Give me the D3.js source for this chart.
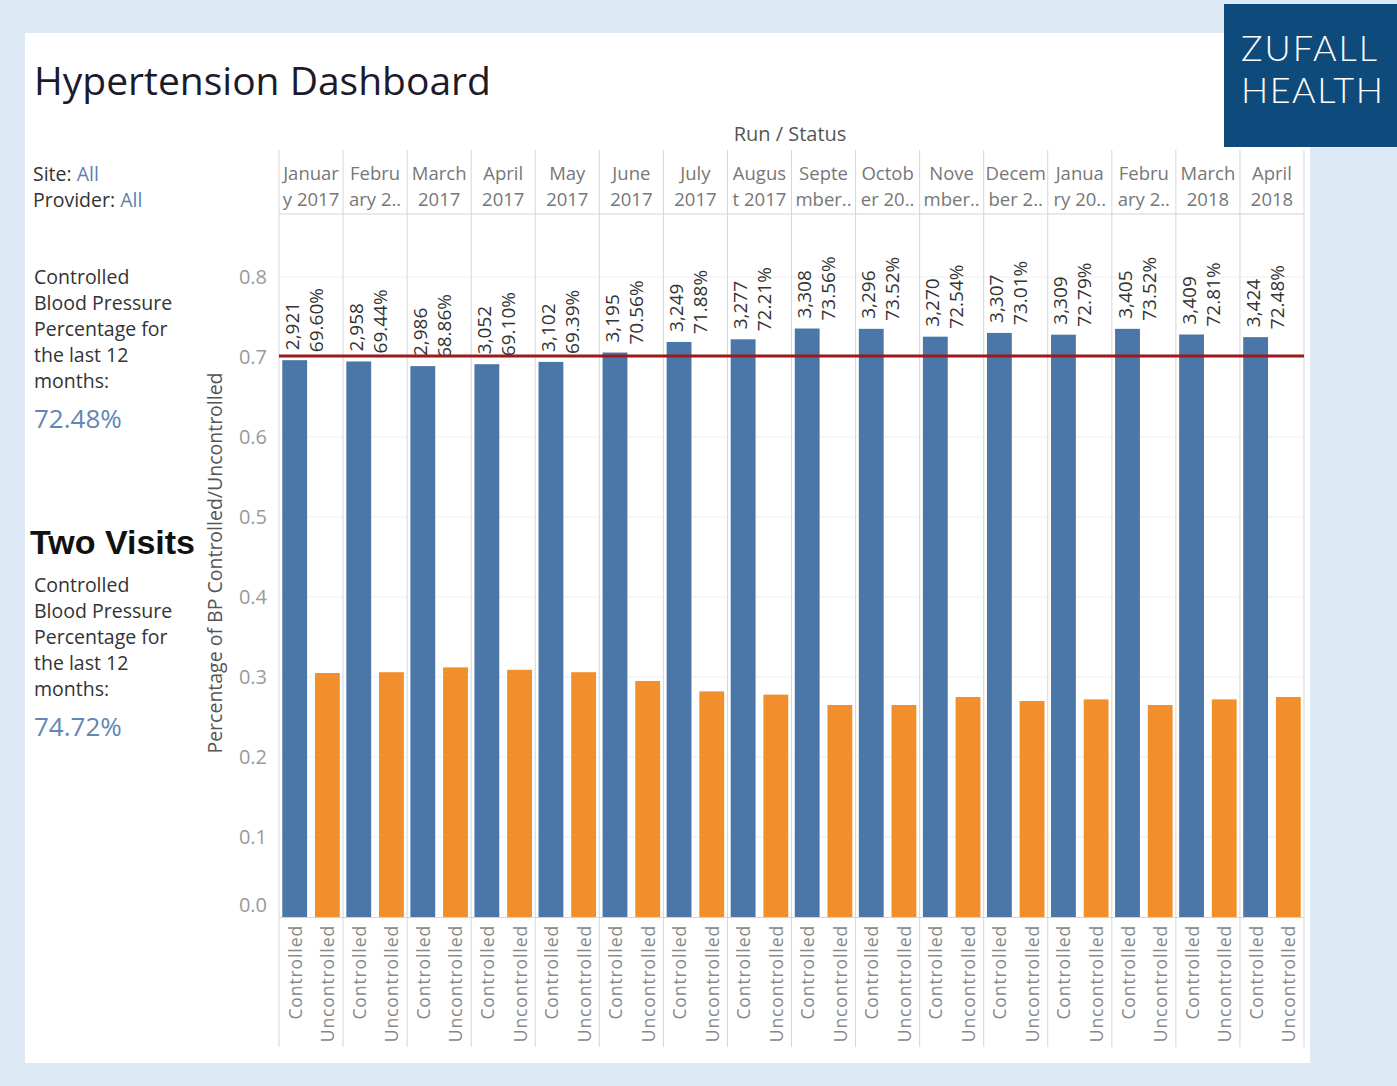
<!DOCTYPE html>
<html><head><meta charset="utf-8">
<script src="https://cdn.jsdelivr.net/npm/d3@7/dist/d3.min.js"></script>
<style>
html,body{margin:0;padding:0;background:#dde9f5;}
svg{display:block;}
text{font-family:"Open Sans","Noto Sans",sans-serif;}
</style></head><body>
<svg id="c" width="1397" height="1086"></svg>
<script>
// ---- data ----
const months = ["January 2017","February 2017","March 2017","April 2017","May 2017","June 2017","July 2017","August 2017","September 2017","October 2017","November 2017","December 2017","January 2018","February 2018","March 2018","April 2018"];
const headerLine1 = ["Januar","Febru","March","April","May","June","July","Augus","Septe","Octob","Nove","Decem","Janua","Febru","March","April"];
const headerLine2 = ["y 2017","ary 2..","2017","2017","2017","2017","2017","t 2017","mber..","er 20..","mber..","ber 2..","ry 20..","ary 2..","2018","2018"];
const statuses = ["Controlled","Uncontrolled"];
const controlled = [0.6960,0.6944,0.6886,0.6910,0.6939,0.7056,0.7188,0.7221,0.7356,0.7352,0.7254,0.7301,0.7279,0.7352,0.7281,0.7248];
const controlledCount = ["2,921","2,958","2,986","3,052","3,102","3,195","3,249","3,277","3,308","3,296","3,270","3,307","3,309","3,405","3,409","3,424"];
const controlledLabel = ["69.60%","69.44%","68.86%","69.10%","69.39%","70.56%","71.88%","72.21%","73.56%","73.52%","72.54%","73.01%","72.79%","73.52%","72.81%","72.48%"];
const uncontrolled = [0.305,0.306,0.312,0.309,0.306,0.295,0.282,0.278,0.265,0.265,0.275,0.270,0.272,0.265,0.272,0.275];
const yTicks = [0,0.1,0.2,0.3,0.4,0.5,0.6,0.7,0.8];
const targetLine = 0.70;

const svg = d3.select("#c");
// white panel
svg.append("rect").attr("x",25).attr("y",33).attr("width",1285).attr("height",1030).attr("fill","#ffffff");

// logo
svg.append("rect").attr("x",1224).attr("y",4).attr("width",173).attr("height",143).attr("fill","#0f4a7c");
svg.append("text").attr("x",1241).attr("y",61).attr("fill","#fff").style("font-family","Lato,sans-serif").attr("font-size",36).attr("font-weight",300).attr("letter-spacing",2).text("ZUFALL");
svg.append("text").attr("x",1241).attr("y",103).attr("fill","#fff").style("font-family","Lato,sans-serif").attr("font-size",36).attr("font-weight",300).attr("letter-spacing",1.5).text("HEALTH");

// title
svg.append("text").attr("x",34).attr("y",95).attr("fill","#1b1b2b").attr("font-size",39).text("Hypertension Dashboard");

// left panel
const lp = svg.append("g");
function filt(y,label,val){
  const t = lp.append("text").attr("x",33).attr("y",y).attr("font-size",19.5).attr("fill","#333");
  t.append("tspan").text(label+" ");
  t.append("tspan").attr("fill","#5a7fb0").text(val);
}
filt(181,"Site:","All");
filt(207,"Provider:","All");
const blockLines = ["Controlled","Blood Pressure","Percentage for","the last 12","months:"];
function block(y0,val){
  blockLines.forEach((l,i)=>lp.append("text").attr("x",34).attr("y",y0+i*26).attr("font-size",19.5).attr("fill","#333").text(l));
  lp.append("text").attr("x",34).attr("y",y0+5*26+14).attr("font-size",26).attr("fill","#6287b5").text(val);
}
block(284,"72.48%");
lp.append("text").attr("x",30).attr("y",554).attr("font-size",34).attr("font-weight","bold").style("font-family","Liberation Sans,Arial,sans-serif").attr("fill","#111").text("Two Visits");
block(592,"74.72%");

// chart
const x0 = 279, x1 = 1304, yTop = 150, hdrBottom = 214, yBase = 917, yBottom = 1047;
const x = d3.scaleBand().domain(months).range([x0,x1]).padding(0);
const xi = d3.scaleBand().domain(statuses).range([0,x.bandwidth()]).paddingInner(0.24).paddingOuter(0.1);
const y = d3.scaleLinear().domain([0,0.8]).range([yBase,277]);

// horizontal gridlines
svg.append("g").selectAll("line").data(yTicks.filter(d=>d>0)).join("line")
  .attr("x1",x0).attr("x2",x1).attr("y1",d=>y(d)).attr("y2",d=>y(d))
  .attr("stroke","#efefef").attr("stroke-width",1);

// header row
svg.append("text").attr("x",790).attr("y",141).attr("text-anchor","middle").attr("font-size",20).attr("fill","#555").text("Run / Status");
svg.append("line").attr("x1",x0).attr("x2",x1).attr("y1",hdrBottom).attr("y2",hdrBottom).attr("stroke","#d4d4d4");
const hdr = svg.append("g").selectAll("g").data(months).join("g");
hdr.append("text").attr("x",d=>x(d)+x.bandwidth()/2).attr("y",180).attr("text-anchor","middle").attr("font-size",18.5).attr("fill","#777").text((d,i)=>headerLine1[i]);
hdr.append("text").attr("x",d=>x(d)+x.bandwidth()/2).attr("y",206).attr("text-anchor","middle").attr("font-size",18.5).attr("fill","#777").text((d,i)=>headerLine2[i]);

// vertical column separators
const seps = months.map(m=>x(m)).concat([x1]);
svg.append("g").selectAll("line").data(seps).join("line")
  .attr("x1",d=>d).attr("x2",d=>d).attr("y1",yTop).attr("y2",yBottom)
  .attr("stroke","#d6d6d6").attr("stroke-width",1);

// bars
const colors = {Controlled:"#4a76a8",Uncontrolled:"#f28e2b"};
const rows = [];
months.forEach((m,i)=>{
  rows.push({m,s:"Controlled",v:controlled[i],i});
  rows.push({m,s:"Uncontrolled",v:uncontrolled[i],i});
});
svg.append("g").selectAll("rect").data(rows).join("rect")
  .attr("x",d=>x(d.m)+xi(d.s)).attr("width",xi.bandwidth())
  .attr("y",d=>y(d.v)).attr("height",d=>yBase-y(d.v))
  .attr("fill",d=>colors[d.s]);

// baseline
svg.append("line").attr("x1",x0).attr("x2",x1).attr("y1",yBase+0.5).attr("y2",yBase+0.5).attr("stroke","#d4d4d4");

// labels on controlled bars
const lab = svg.append("g").selectAll("g").data(rows.filter(d=>d.s==="Controlled")).join("g");
lab.append("text")
  .attr("transform",d=>`translate(${x(d.m)+xi(d.s)+xi.bandwidth()/2-3},${y(d.v)-10}) rotate(-90)`)
  .attr("dominant-baseline","central").attr("font-size",19).attr("fill","#333").text(d=>controlledCount[d.i]);
lab.append("text")
  .attr("transform",d=>`translate(${x(d.m)+xi(d.s)+xi.bandwidth()/2+21},${y(d.v)-8}) rotate(-90)`)
  .attr("dominant-baseline","central").attr("font-size",19).attr("fill","#333").text(d=>controlledLabel[d.i]);

// target line
svg.append("line").attr("x1",x0).attr("x2",x1).attr("y1",y(targetLine)-1).attr("y2",y(targetLine)-1)
  .attr("stroke","#9c1a1c").attr("stroke-width",3);

// y axis
const ya = svg.append("g").attr("transform",`translate(${x0},0)`)
  .call(d3.axisLeft(y).tickValues(yTicks).tickFormat(d3.format(".1f")).tickSize(0).tickPadding(12));
ya.select(".domain").remove();
ya.selectAll("text").attr("font-size",20).attr("fill","#9a9a9a").style("font-family","Open Sans,sans-serif");
ya.selectAll(".tick").filter(d=>d===0).select("text").attr("dy","-0.3em");
svg.append("text").attr("transform","translate(214,563) rotate(-90)").attr("text-anchor","middle").attr("dominant-baseline","central")
  .attr("font-size",19.5).attr("fill","#555").text("Percentage of BP Controlled/Uncontrolled");

// bottom status labels
svg.append("g").selectAll("text").data(rows).join("text")
  .attr("transform",d=>`translate(${x(d.m)+xi(d.s)+xi.bandwidth()/2},925) rotate(-90)`)
  .attr("text-anchor","end").attr("dominant-baseline","central")
  .attr("font-size",17.5).attr("letter-spacing",0.9).attr("fill","#888").text(d=>d.s);
</script>
</body></html>
